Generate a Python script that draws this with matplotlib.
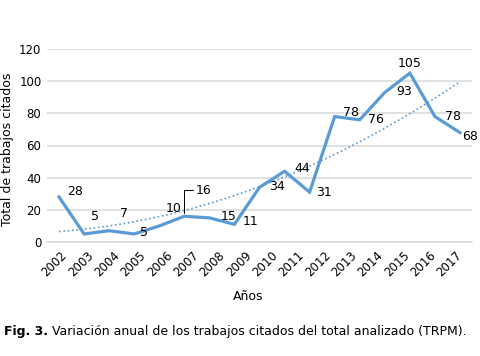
import numpy as np
import matplotlib
matplotlib.use("Agg")
import matplotlib.pyplot as plt

# Data
years = ["2002", "2003", "2004", "2005", "2006", "2007", "2008", "2009",
         "2010", "2011", "2012", "2013", "2014", "2015", "2016", "2017"]
values = [28, 5, 7, 5, 10, 16, 15, 11, 34, 44, 31, 78, 76, 93, 105, 78, 68]

# label offsets in pixels (dx, dy) relative to each point
label_offsets = [(16, 5), (11, 17), (15, 17), (10, 1), (14, 17), (19, 26),
                 (19, 1), (16, 3), (17, 1), (18, 3), (14, 0), (16, 4),
                 (16, 0), (19, 1), (0, 10), (18, 0), (10, -4)]

blue = "#5B9BD5"
grid = "#d9d9d9"

fig = plt.figure(figsize=(4.8, 3.56), dpi=100)
ax = fig.add_axes([47/480, 114/356, 425/480, 193/356])

x = np.arange(len(values))
ax.plot(x, values, color=blue, lw=2.3, solid_joinstyle="miter", zorder=3)

# polynomial (order 2) trend line, as in the spreadsheet
coef = np.polyfit(x, values, 2)
xt = np.linspace(x[0], x[-1], 200)
ax.plot(xt, np.polyval(coef, xt), color=blue, lw=1.2,
        linestyle=(0, (1, 1.6)), zorder=2)

for i, (v, (dx, dy)) in enumerate(zip(values, label_offsets)):
    if i == 5:
        ax.annotate(str(v), xy=(i, v), xytext=(dx, dy), textcoords="offset pixels",
                    ha="center", va="center", fontsize=9,
                    arrowprops=dict(arrowstyle="-", color="black", lw=0.7,
                                    shrinkA=0, shrinkB=2,
                                    connectionstyle="angle,angleA=0,angleB=90,rad=0"))
    else:
        ax.annotate(str(v), xy=(i, v), xytext=(dx, dy), textcoords="offset pixels",
                    ha="center", va="center", fontsize=9)

ax.set_xlim(-0.48, len(values) - 1 + 0.48)
ax.set_ylim(0, 120)
ax.set_yticks(range(0, 121, 20))
ax.yaxis.grid(True, color=grid, lw=1.1)
ax.set_axisbelow(True)

ticks = np.linspace(0.24, len(values) - 1, len(years))
ax.set_xticks(ticks)
ax.set_xticklabels(years, rotation=45, ha="right", va="center",
                   rotation_mode="anchor", fontsize=8.5)
ax.tick_params(axis="x", length=0, pad=8)
ax.tick_params(axis="y", length=0, pad=4, labelsize=8.5)

for s in ["top", "right", "left"]:
    ax.spines[s].set_visible(False)
ax.spines["bottom"].set_color(grid)
ax.spines["bottom"].set_linewidth(1.1)

fig.text(8/480, 1 - 149/356, "Total de trabajos citados", rotation=90,
         ha="center", va="center", fontsize=9)
fig.text(248/480, 1 - 296/356, "Años", ha="center", va="center", fontsize=9)

# caption
t1 = fig.text(4/480, 1 - 331/356, "Fig. 3.", fontsize=9, fontweight="bold",
              ha="left", va="center")
fig.canvas.draw()
bb = t1.get_window_extent()
fig.text(bb.x1/480 + 4/480, 1 - 331/356,
         "Variación anual de los trabajos citados del total analizado (TRPM).",
         fontsize=9, ha="left", va="center")

fig.savefig("out.png", dpi=100)
